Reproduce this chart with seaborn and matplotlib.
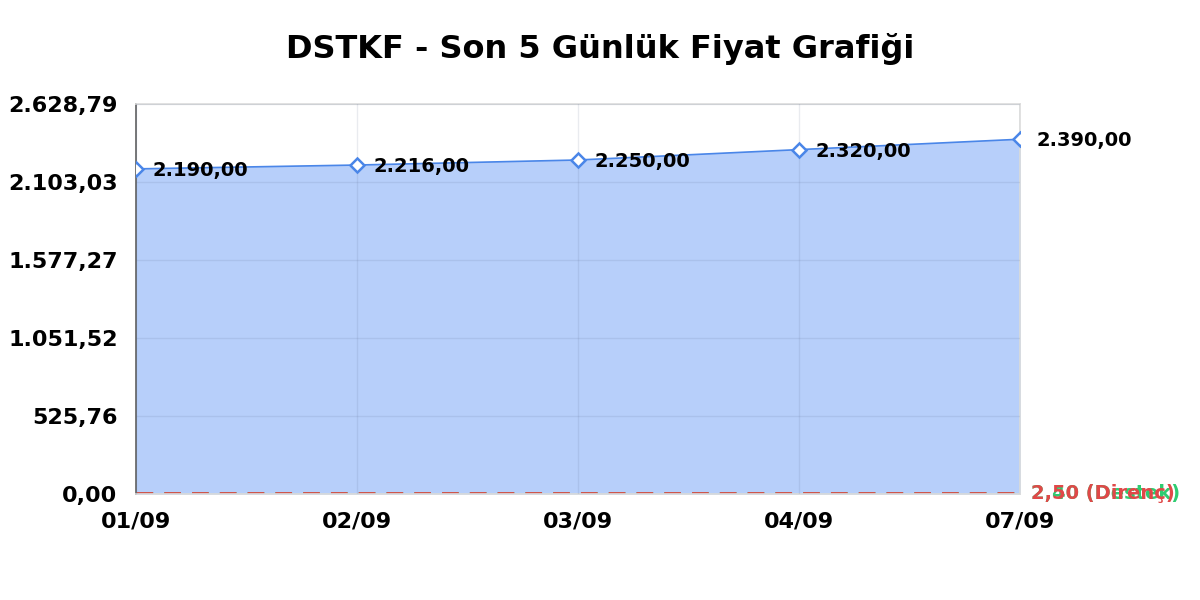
import numpy as np
import pandas as pd
import matplotlib
matplotlib.use("Agg")
import matplotlib.pyplot as plt
import seaborn as sns

dates = ["01/09", "02/09", "03/09", "04/09", "07/09"]
prices = [2190.00, 2216.00, 2250.00, 2320.00, 2390.00]
support = 2.40
resistance = 2.50
y_max = 2628.79


def tr_fmt(v):
    s = f"{v:,.2f}"
    return s.replace(",", "X").replace(".", ",").replace("X", ".")


sns.set_theme(style="white")
plt.rcParams["font.family"] = ["DejaVu Sans"]

df = pd.DataFrame({"idx": range(len(dates)), "price": prices})

fig = plt.figure(figsize=(12, 6), dpi=100)
ax = fig.add_axes([0.113, 0.177, 0.737, 0.65])

ax.fill_between(df["idx"], df["price"], 0, color="#b7cffa", zorder=1)
sns.lineplot(data=df, x="idx", y="price", ax=ax, color="#4a86e8", linewidth=1.2,
             marker="D", markersize=7.5, markerfacecolor="white",
             markeredgecolor="#4a86e8", markeredgewidth=1.8, zorder=3)

# destek / direnç çizgileri (fiyat ölçeğinde sıfırın hemen üstünde kalıyor)
ax.axhline(support, color="#2ecc71", linestyle=(0, (6, 4)), linewidth=2, zorder=2)
ax.axhline(resistance, color="#e04848", linestyle=(0, (6, 4)), linewidth=2, zorder=2)
ax.text(len(dates) - 1 + 0.05, support, f"{tr_fmt(support)} (Destek)", color="#2ecc71",
        fontsize=14, fontweight="bold", va="center", ha="left", clip_on=False)
ax.text(len(dates) - 1 + 0.05, resistance, f"{tr_fmt(resistance)} (Direnç)", color="#e04848",
        fontsize=14, fontweight="bold", va="center", ha="left", clip_on=False)

for i, p in enumerate(prices):
    ax.annotate(tr_fmt(p), (i, p), xytext=(12, -1), textcoords="offset points",
                fontsize=14, fontweight="bold", color="black", ha="left", va="center",
                annotation_clip=False, zorder=4)

yticks = np.linspace(0, y_max, 6)
ax.set_ylim(0, y_max)
ax.set_xlim(0, len(dates) - 1)
ax.set_yticks(yticks)
ax.set_yticklabels([tr_fmt(v) for v in yticks], fontsize=16, fontweight="bold", color="black")
ax.set_xticks(range(len(dates)))
ax.set_xticklabels(dates, fontsize=16, fontweight="bold", color="black")
ax.tick_params(axis="y", length=0, pad=13)
ax.tick_params(axis="x", length=0, pad=13)
ax.set_xlabel("")
ax.set_ylabel("")
ax.grid(True, color="#556688", linewidth=1, alpha=0.13)
ax.set_axisbelow(False)
for line in ax.get_xgridlines() + ax.get_ygridlines():
    line.set_zorder(1.5)

for side in ["top", "right", "bottom"]:
    ax.spines[side].set_color("#dddddd")
ax.spines["left"].set_color("#666666")

fig.suptitle("DSTKF - Son 5 Günlük Fiyat Grafiği", fontsize=23, fontweight="bold",
             color="black", y=0.945)

fig.savefig("out.png", dpi=100)
